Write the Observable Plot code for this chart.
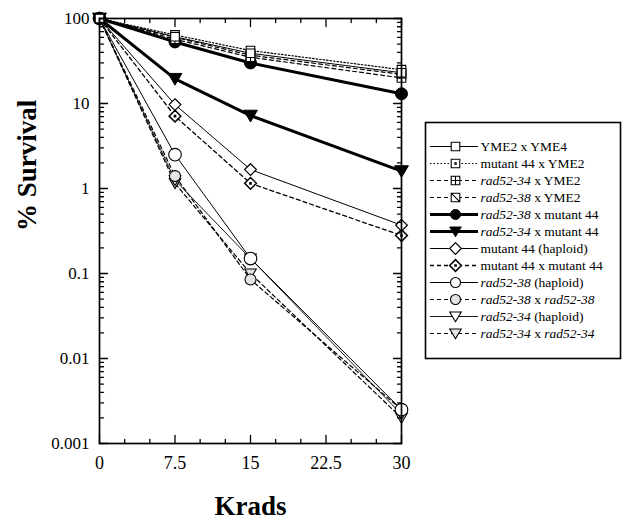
<!DOCTYPE html>
<html><head><meta charset="utf-8">
<script src="https://cdn.jsdelivr.net/npm/d3@7"></script>
<script src="https://cdn.jsdelivr.net/npm/@observablehq/plot@0.6"></script>
<style>
html,body{margin:0;padding:0;background:#fff;}
#wrap{position:relative;width:634px;height:525px;}
#wrap svg{position:absolute;}
</style></head><body><div id="wrap"></div>
<script>
// ---------- data ----------
const doses = [0, 7.5, 15, 30];
const seriesNames = [
  "YME2 x YME4",
  "mutant 44 x YME2",
  "rad52-34 x YME2",
  "rad52-38 x YME2",
  "rad52-38 x mutant 44",
  "rad52-34 x mutant 44",
  "mutant 44 (haploid)",
  "mutant 44 x mutant 44",
  "rad52-38 (haploid)",
  "rad52-38 x rad52-38",
  "rad52-34 (haploid)",
  "rad52-34 x rad52-34"
];
const yme2xYme4        = [100, 61, 39, 23];
const mut44xYme2       = [100, 64, 42, 25];
const r34xYme2         = [100, 57, 35, 20];
const r38xYme2         = [100, 60, 37, 22];
const r38xMut44        = [100, 53, 30, 13];
const r34xMut44        = [100, 19.5, 7.2, 1.6];
const mut44Haploid     = [100, 9.7, 1.67, 0.37];
const mut44xMut44      = [100, 7.1, 1.15, 0.28];
const r38Haploid       = [100, 2.5, 0.15, 0.0025];
const r38xR38          = [100, 1.4, 0.085, 0.0025];
const r34Haploid       = [100, 1.25, 0.15, 0.0022];
const r34xR34          = [100, 1.15, 0.1, 0.002];
const seriesValues = [yme2xYme4, mut44xYme2, r34xYme2, r38xYme2, r38xMut44, r34xMut44,
  mut44Haploid, mut44xMut44, r38Haploid, r38xR38, r34Haploid, r34xR34];

const xTickValues = [0, 7.5, 15, 22.5, 30];
const xMinorTicks = [2.5, 5, 10, 12.5, 17.5, 20, 25, 27.5];
const yTickValues = [0.001, 0.01, 0.1, 1, 10, 100];
const yTickLabels = ["0.001", "0.01", "0.1", "1", "10", "100"];
const yMinorTicks = [];
for (const dec of [0.001, 0.01, 0.1, 1, 10]) for (let k = 2; k <= 9; k++) yMinorTicks.push(+(dec * k).toPrecision(3));

// ---------- symbols ----------
const R = s => Math.sqrt(s / Math.PI);
const sym = {
  square: {draw(c, s) { const r = R(s); c.rect(-r, -r, 2 * r, 2 * r); }},
  squareDot: {draw(c, s) { const r = R(s); c.rect(-r, -r, 2 * r, 2 * r); c.rect(-0.7, -0.7, 1.4, 1.4); }},
  squarePlus: {draw(c, s) { const r = R(s); c.rect(-r, -r, 2 * r, 2 * r); c.moveTo(-r, 0); c.lineTo(r, 0); c.moveTo(0, -r); c.lineTo(0, r); }},
  squareSlash: {draw(c, s) { const r = R(s); c.rect(-r, -r, 2 * r, 2 * r); c.moveTo(-r, -r); c.lineTo(r, r); }},
  circle: {draw(c, s) { const r = R(s); c.moveTo(r, 0); c.arc(0, 0, r, 0, 2 * Math.PI); }},
  triDown: {draw(c, s) { const r = R(s); c.moveTo(0, r * 1.05); c.lineTo(-r * 1.15, -r * 0.9); c.lineTo(r * 1.15, -r * 0.9); c.closePath(); }},
  diamond: {draw(c, s) { const r = R(s) * 1.3; c.moveTo(0, -r); c.lineTo(r, 0); c.lineTo(0, r); c.lineTo(-r, 0); c.closePath(); }},
  diamondDot: {draw(c, s) { const r = R(s) * 1.3; c.moveTo(0, -r); c.lineTo(r, 0); c.lineTo(0, r); c.lineTo(-r, 0); c.closePath(); c.rect(-0.6, -0.6, 1.2, 1.2); }}
};

// styles per series (index-aligned with seriesNames)
const styles = [
  {w: 1,   dash: null,    symbol: sym.square,      r: 4.3, fill: "white", sw: 1.1},
  {w: 1.2, dash: "1.5,2", symbol: sym.squareDot,   r: 4.3, fill: "white", sw: 1.1},
  {w: 1.2, dash: "4,3",   symbol: sym.squarePlus,  r: 4.3, fill: "white", sw: 1.1},
  {w: 1.2, dash: "4,3",   symbol: sym.squareSlash, r: 4.3, fill: "white", sw: 1.1},
  {w: 3,   dash: null,    symbol: sym.circle,      r: 6,   fill: "black", sw: 1},
  {w: 3,   dash: null,    symbol: sym.triDown,     r: 6,   fill: "black", sw: 1},
  {w: 1,   dash: null,    symbol: sym.diamond,     r: 4.5, fill: "white", sw: 1.2},
  {w: 1.3, dash: "4,3",   symbol: sym.diamondDot,  r: 4.5, fill: "white", sw: 1.5},
  {w: 1,   dash: null,    symbol: sym.circle,      r: 6.3, fill: "white", sw: 1.1},
  {w: 1.2, dash: "4,3",   symbol: sym.circle,      r: 5.5, fill: "#e4e4e4", sw: 1.1},
  {w: 0.9, dash: null,    symbol: sym.triDown,     r: 5,   fill: "white", sw: 1.1},
  {w: 1.2, dash: "4,3",   symbol: sym.triDown,     r: 5,   fill: "#e4e4e4", sw: 1.1}
];

const tables = seriesValues.map((vals, i) => vals.map((v, j) => ({series: seriesNames[i], dose: doses[j], survival: v})));

const seriesMarks = [];
for (let i = seriesNames.length - 1; i >= 0; i--) {
  const st = styles[i];
  seriesMarks.push(Plot.line(tables[i], {x: "dose", y: "survival", stroke: "black", strokeWidth: st.w, strokeDasharray: st.dash}));
}
for (let i = seriesNames.length - 1; i >= 0; i--) {
  const st = styles[i];
  seriesMarks.push(Plot.dot(tables[i], {x: "dose", y: "survival", symbol: st.symbol, r: st.r, fill: st.fill, stroke: "black", strokeWidth: st.sw}));
}

const tickShape = {draw(c, l) { c.moveTo(0, 0); c.lineTo(0, -l); }};
const tk = (data, ch, anchor, rot, len) => Plot.vector(data, {[ch]: d => d, frameAnchor: anchor, rotate: rot, length: len, anchor: "start", shape: tickShape, stroke: "black", strokeWidth: 1.3});

const font = '"Liberation Serif", "DejaVu Serif", serif';
const main = Plot.plot({
  width: 634, height: 525,
  marginLeft: 99, marginRight: 233, marginTop: 18, marginBottom: 82,
  x: {domain: [0, 30]},
  y: {type: "log", domain: [0.001, 100]},
  style: {fontFamily: font, color: "black", background: "transparent", overflow: "visible"},
  marks: [
    ...seriesMarks,
    tk(xTickValues, "x", "bottom", 0, 8), tk(xMinorTicks, "x", "bottom", 0, 4),
    tk(xTickValues, "x", "top", 180, 8), tk(xMinorTicks, "x", "top", 180, 4),
    tk(yTickValues, "y", "left", 90, 8), tk(yMinorTicks, "y", "left", 90, 4),
    tk(yTickValues, "y", "right", -90, 8), tk(yMinorTicks, "y", "right", -90, 4),
    Plot.frame({stroke: "black", strokeWidth: 1.7}),
    Plot.axisX(xTickValues, {tickSize: 0, tickPadding: 13, fontSize: 18, label: null, tickFormat: d => String(d)}),
    Plot.axisY(yTickValues, {tickSize: 0, tickPadding: 10, fontSize: 17, label: null, tickFormat: d => yTickLabels[yTickValues.indexOf(d)]}),
    Plot.text(["Krads"], {text: d => d, frameAnchor: "bottom", dy: 71, fontSize: 27, fontWeight: "bold"}),
    Plot.text(["% Survival"], {text: d => d, frameAnchor: "left", dx: -72, rotate: -90, fontSize: 27, fontWeight: "bold"})
  ]
});
main.style.left = "0px"; main.style.top = "0px";
document.getElementById("wrap").appendChild(main);

// ---------- legend ----------
const legendMarks = [Plot.frame({stroke: "black", strokeWidth: 1.6})];
seriesNames.forEach((name, i) => {
  const st = styles[i];
  legendMarks.push(Plot.ruleY([name], {y: d => d, x1: 5, x2: 53, stroke: "black", strokeWidth: st.w, strokeDasharray: st.dash}));
  legendMarks.push(Plot.dot([name], {x: 30, y: d => d, symbol: st.symbol, r: Math.min(st.r, 5), fill: st.fill, stroke: "black", strokeWidth: st.sw}));
});
legendMarks.push(Plot.text(seriesNames, {x: 55, y: d => d, text: d => d, textAnchor: "start", fontSize: 13.5, fill: "black"}));
const legend = Plot.plot({
  width: 197, height: 238, margin: 1,
  x: {domain: [0, 195], axis: null},
  y: {type: "point", domain: seriesNames, range: [12, 225], axis: null},
  style: {fontFamily: font, color: "black", background: "white", overflow: "visible"},
  marks: legendMarks
});
legend.querySelectorAll("text").forEach(t => {
  const s = t.textContent;
  if (!/rad52/.test(s)) return;
  t.textContent = "";
  s.split(/(rad52-\d+)/).forEach(part => {
    if (!part) return;
    const ts = document.createElementNS("http://www.w3.org/2000/svg", "tspan");
    ts.textContent = part;
    if (/^rad52/.test(part)) ts.setAttribute("font-style", "italic");
    t.appendChild(ts);
  });
});
legend.style.left = "424px"; legend.style.top = "121px";
document.getElementById("wrap").appendChild(legend);
</script>
</body></html>
